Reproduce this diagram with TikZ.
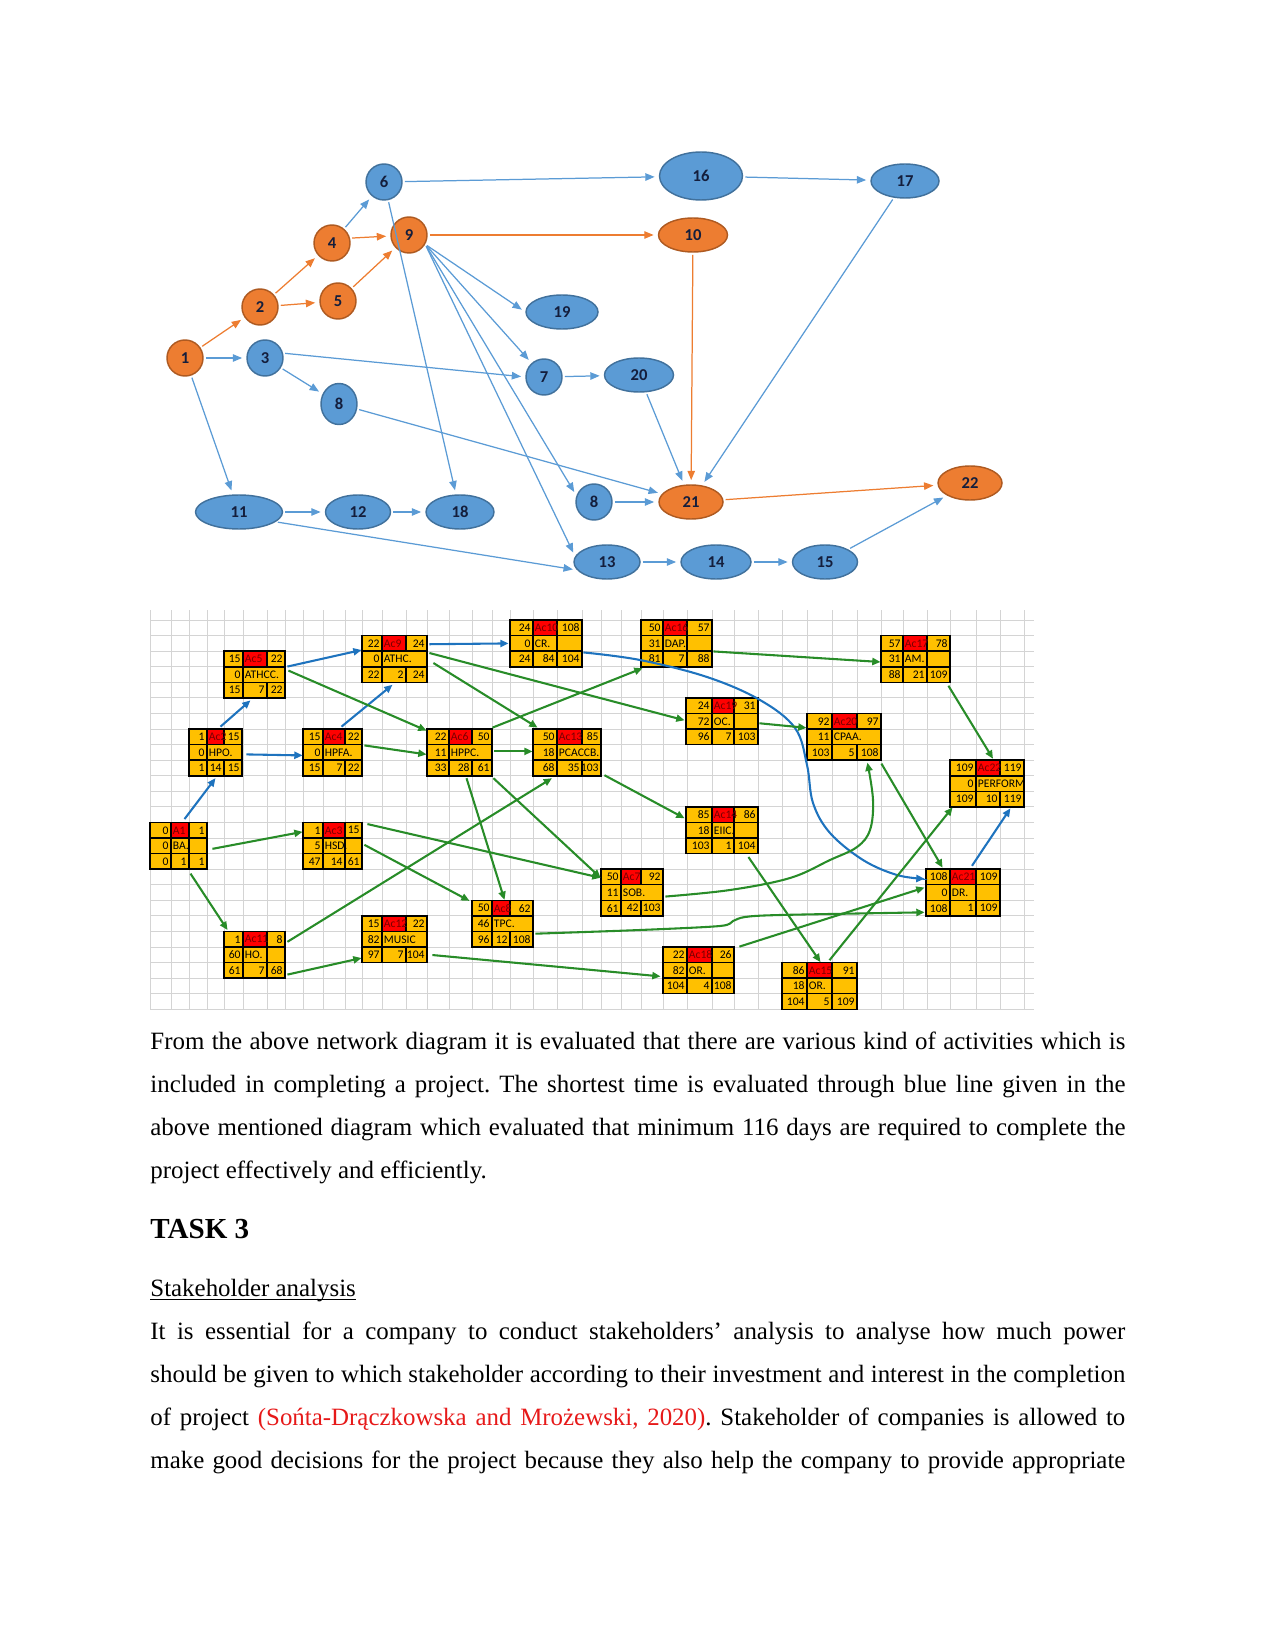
\documentclass[tikz,border=0pt]{standalone}
\usepackage{fontspec}
\setmainfont{Liberation Serif}
\newfontfamily\calibri{Carlito}
\usetikzlibrary{arrows.meta, shapes.geometric, fit}
\definecolor{nodeblue}{RGB}{91,155,213}
\definecolor{nodeblueline}{RGB}{65,113,156}
\definecolor{nodeorange}{RGB}{237,125,49}
\definecolor{nodeorangeline}{RGB}{174,90,33}
\definecolor{nodetext}{RGB}{20,30,60}
\definecolor{cellgold}{RGB}{255,192,0}
\definecolor{cellred}{RGB}{255,0,0}
\definecolor{celltext}{RGB}{120,0,0}
\definecolor{gridgray}{RGB}{212,212,212}
\definecolor{pathblue}{RGB}{30,115,190}
\definecolor{pathgreen}{RGB}{40,140,40}
\definecolor{citered}{RGB}{230,25,25}
\newlength{\pxl}
\setlength{\pxl}{0.4818pt}
\frenchspacing

\begin{document}
\begin{tikzpicture}[
  x=\pxl, y=-\pxl,
  ev/.style={ellipse, inner sep=0pt, line width=0.7pt, minimum width=36\pxl, minimum height=36\pxl, text=nodetext, font=\calibri\bfseries\fontsize{8}{9}\selectfont},
  blueev/.style={ev, fill=nodeblue, draw=nodeblueline},
  orangeev/.style={ev, fill=nodeorange, draw=nodeorangeline},
  link/.style={line width=0.6pt, shorten <=1pt, shorten >=2pt, -{Triangle[length=4.5pt,width=3.6pt]}},
  bluelink/.style={link, nodeblue},
  orangelink/.style={link, nodeorange},
  gridline/.style={gridgray, line width=0.45pt},
  cell/.style={draw=black, line width=0.7pt},
  num/.style={inner sep=0pt, anchor=east, font=\calibri\fontsize{5.6}{6}\selectfont},
  lbl/.style={inner sep=0pt, anchor=west, font=\calibri\fontsize{5.6}{6}\selectfont},
  arrow/.style={line width=1pt, -{Triangle[length=4pt,width=3.4pt]}},
  crit/.style={arrow, pathblue},
  flow/.style={arrow, pathgreen},
  body/.style={inner sep=0pt, anchor=base west, font=\fontsize{12}{14}\selectfont}
]
  \useasboundingbox (0,0) rectangle (1275,1650);

  % Network of events
  \node[orangeev] (n1) at (185,358) {1};
  \node[orangeev] (n2) at (260,307) {2};
  \node[blueev] (n3) at (265,358) {3};
  \node[orangeev] (n4) at (332,243) {4};
  \node[orangeev] (n5) at (338,301) {5};
  \node[blueev] (n6) at (384,182) {6};
  \node[orangeev] (n9) at (409,235) {9};
  \node[blueev, minimum height=41\pxl] (n8) at (339,404) {8};
  \node[blueev, minimum width=72\pxl, minimum height=34\pxl] (n19) at (562,312) {19};
  \node[blueev] (n7) at (544,377) {7};
  \node[blueev, minimum width=87\pxl, minimum height=34\pxl] (n11) at (239,512) {11};
  \node[blueev, minimum width=65\pxl, minimum height=34\pxl] (n12) at (358,512) {12};
  \node[blueev, minimum width=68\pxl, minimum height=34\pxl] (n18) at (460,512) {18};
  \node[blueev] (n8low) at (594,502) {8};
  \node[blueev, minimum width=66\pxl, minimum height=34\pxl] (n13) at (607,562) {13};
  \node[blueev, minimum width=83\pxl, minimum height=48\pxl] (n16) at (701,176) {16};
  \node[blueev, minimum width=68\pxl, minimum height=34\pxl] (n17) at (905,181) {17};
  \node[orangeev, minimum width=69\pxl, minimum height=34\pxl] (n10) at (693,235) {10};
  \node[blueev, minimum width=69\pxl, minimum height=34\pxl] (n20) at (639,375) {20};
  \node[orangeev, minimum width=64\pxl, minimum height=34\pxl] (n21) at (691,502) {21};
  \node[orangeev, minimum width=64\pxl, minimum height=34\pxl] (n22) at (970,483) {22};
  \node[blueev, minimum width=70\pxl, minimum height=34\pxl] (n14) at (716,562) {14};
  \node[blueev, minimum width=65\pxl, minimum height=34\pxl] (n15) at (825,562) {15};

  % Critical (orange) links
  \draw[orangelink] (n1) -- (n2);
  \draw[orangelink] (n2) -- (n4);
  \draw[orangelink] (n2) -- (n5);
  \draw[orangelink] (n4.15) -- (n9);
  \draw[orangelink] (n5) -- (n9);
  \draw[orangelink] (n9) -- (n10);
  \draw[orangelink] (n10) -- (n21);
  \draw[orangelink] (n21) -- (n22);

  % Other (blue) links
  \draw[bluelink] (n1) -- (n3);
  \draw[bluelink] (n1) -- (n11);
  \draw[bluelink] (n3.15) -- (n7.west);
  \draw[bluelink] (n3) -- (n8);
  \draw[bluelink] (n4) -- (n6);
  \draw[bluelink] (n6) -- (n16);
  \draw[bluelink] (n6) -- (n18);
  \draw[bluelink] (n16) -- (n17);
  \draw[bluelink] (n17) -- (n21);
  \draw[bluelink] (n9.-30) -- (n19.west);
  \draw[bluelink] (n9.-30) -- (n7);
  \draw[bluelink] (n9.-30) -- (n8low.160);
  \draw[bluelink] (n9.-30) -- (n13.170);
  \draw[bluelink] (n7) -- (n20);
  \draw[bluelink] (n20) -- (n21);
  \draw[bluelink] (n8) -- (n21);
  \draw[bluelink] (n8low) -- (n21);
  \draw[bluelink] (n11) -- (n12);
  \draw[bluelink] (n12) -- (n18);
  \draw[bluelink] (n11.-15) -- (n13.195);
  \draw[bluelink] (n13) -- (n14);
  \draw[bluelink] (n14) -- (n15);
  \draw[bluelink] (n15) -- (n22);

  % Sheet grid
  \begin{scope}
    \clip (150,610) rectangle (1034,1010);
    \foreach \k in {1,...,26}
      \draw[gridline] (150,604.5+15.57*\k) -- (1034,604.5+15.57*\k);
    \foreach \gx in {150,171,189,207,224,243,267,285,303,323,345,362,382,406,427,449,472,492,510,533,557,582,601,621,641,663,687,712,734,758,782,807,832,857,881,903,927,950,976,1000,1024}
      \draw[gridline] (\gx,610) -- (\gx,1010);
  \end{scope}

  % Activity boxes: name/columns/row/ES/Ac/EF/slack/label/LS/duration/LF/merged
  \foreach \nm/\xa/\xb/\xc/\xd/\rw/\es/\ac/\ef/\sl/\lb/\ls/\du/\lf/\mg in {
    a1/150/171/189/207/14/0/A1/1/0/BA./0/1/1/0,
    ac2/189/207/224/242/8/1/Ac2/15/0/HPO./1/14/15/1,
    ac3/303/323/345/362/14/1/Ac3/15/5/HSD./47/14/61/0,
    ac4/303/323/345/362/8/15/Ac4/22/0/HPFA./15/7/22/1,
    ac5/224/243/267/285/3/15/Ac5/22/0/ATHCC./15/7/22/1,
    ac6/427/449/472/492/8/22/Ac6/50/11/HPPC./33/28/61/1,
    ac7/601/621/641/663/17/50/Ac7/92/11/SOB./61/42/103/1,
    ac8/472/492/510/533/19/50/Ac8/62/46/TPC./96/12/108/1,
    ac9/362/382/406/427/2/22/Ac9/24/0/ATHC./22/2/24/1,
    ac10/510/533/557/582/1/24/Ac10/108/0/CR./24/84/104/0,
    ac11/224/243/267/285/21/1/Ac11/8/60/HO./61/7/68/0,
    ac12/362/382/406/427/20/15/Ac12/22/82/MUSIC/97/7/104/1,
    ac13/533/557/582/601/8/50/Ac13/85/18/PCACCB./68/35/103/1,
    ac14/686/712/734/758/13/85/Ac14/86/18/EIIC./103/1/104/0,
    ac15/782/807/832/857/23/86/Ac15/91/18/OR./104/5/109/0,
    ac16/641/663/687/712/1/50/Ac16/57/31/DAP./81/7/88/0,
    ac17/881/903/927/950/2/57/Ac17/78/31/AM./88/21/109/0,
    ac18/663/687/712/734/22/22/Ac18/26/82/OR./104/4/108/0,
    ac19/686/712/734/758/6/24/Ac19/31/72/OC./96/7/103/0,
    ac20/807/832/857/881/7/92/Ac20/97/11/CPAA./103/5/108/1,
    ac21/926/950/976/1000/17/108/Ac21/109/0/DR./108/1/109/0,
    ac22/950/976/1000/1024/10/109/Ac22/119/0/PERFORM/109/10/119/1} {
    \pgfmathsetmacro{\ya}{604.5+15.57*\rw}
    \pgfmathsetmacro{\yb}{\ya+15.57}
    \pgfmathsetmacro{\yc}{\ya+31.14}
    \pgfmathsetmacro{\yd}{\ya+46.71}
    \fill[cellgold] (\xa,\ya) rectangle (\xd,\yd);
    \fill[cellred] (\xb,\ya) rectangle (\xc,\yb);
    \draw[cell] (\xa,\ya) rectangle (\xd,\yd)
      (\xa,\yb) -- (\xd,\yb) (\xa,\yc) -- (\xd,\yc)
      (\xb,\ya) -- (\xb,\yd) (\xc,\ya) -- (\xc,\yb) (\xc,\yc) -- (\xc,\yd);
    \ifnum\mg=0 \draw[cell] (\xc,\yb) -- (\xc,\yc); \fi
    \node[fit={(\xa,\ya) (\xd,\yd)}, inner sep=0pt] (\nm) {};
    \node[num] at (\xb-2,\ya+7.8) {\es};
    \node[lbl, text=celltext] at (\xb+1.5,\ya+7.8) {\ac};
    \node[num] at (\xd-2,\ya+7.8) {\ef};
    \node[num] at (\xb-2,\yb+7.8) {\sl};
    \node[lbl] at (\xb+1.5,\yb+7.8) {\lb};
    \node[num] at (\xb-2,\yc+7.8) {\ls};
    \node[num] at (\xc-2,\yc+7.8) {\du};
    \node[num] at (\xd-2,\yc+7.8) {\lf};
  }

  % Critical path (blue)
  \draw[crit] ([shift={(6,-3)}]a1.north) -- ([shift={(0,2)}]ac2.south);
  \draw[crit] ([shift={(5,-2)}]ac2.north) -- ([shift={(-4,2)}]ac5.south);
  \draw[crit] ([shift={(4,2)}]ac2.east) -- ([shift={(0,3)}]ac4.west);
  \draw[crit] ([shift={(2,-8)}]ac5.east) -- ([shift={(0,-9)}]ac9.west);
  \draw[crit] ([shift={(9,-2)}]ac4.north) -- ([shift={(-2,2)}]ac9.south);
  \draw[crit] ([shift={(2,9)}]ac9.north east) -- ([shift={(-1,0)}]ac10.west);
  \draw[crit] plot[smooth, tension=0.6] coordinates {([shift={(1,9)}]ac10.east) (640,660) (707,677) (760,700) (795,728) (807,765) (813,803) (830,833) (863,860) (897,875) ([shift={(-1,10)}]ac21.north west)};
  \draw[crit] ([shift={(9,-3)}]ac21.north) -- ([shift={(-14,1)}]ac22.south east);

  % Other dependencies (green)
  \draw[flow] ([shift={(5,3)}]a1.east) -- ([shift={(0,-14)}]ac3.west);
  \draw[flow] ([shift={(12,4)}]a1.south) -- ([shift={(4,-1)}]ac11.north west);
  \draw[flow] ([shift={(3,-4)}]ac5.east) -- ([shift={(0,2)}]ac6.north west);
  \draw[flow] ([shift={(2,-7)}]ac4.east) -- ([shift={(0,2)}]ac6.west);
  \draw[flow] ([shift={(6,4)}]ac9.east) -- ([shift={(5,-1)}]ac13.north west);
  \draw[flow] ([shift={(2,-6)}]ac9.east) -- ([shift={(-1,-1)}]ac19.west);
  \draw[flow] ([shift={(0,-1)}]ac6.north east) -- ([shift={(2,1)}]ac16.south west);
  \draw[flow] ([shift={(2,-1)}]ac6.east) -- ([shift={(0,-1)}]ac13.west);
  \draw[flow] ([shift={(7,2)}]ac6.south) -- ([shift={(2,0)}]ac8.north);
  \draw[flow] ([shift={(1,2)}]ac6.south east) -- ([shift={(0,9)}]ac7.north west);
  \draw[flow] ([shift={(5,2)}]ac3.north east) -- ([shift={(0,9)}]ac7.north west);
  \draw[flow] ([shift={(2,-1)}]ac3.east) -- ([shift={(-2,1)}]ac8.north west);
  \draw[flow] ([shift={(2,-13)}]ac11.east) -- ([shift={(-15,2)}]ac13.south);
  \draw[flow] ([shift={(2,-4)}]ac11.south east) -- ([shift={(0,-5)}]ac12.south west);
  \draw[flow] ([shift={(5,-8)}]ac12.south east) -- ([shift={(-2,6)}]ac18.west);
  \draw[flow] ([shift={(3,-1)}]ac13.south east) -- ([shift={(-1,-12)}]ac14.west);
  \draw[flow] ([shift={(1,8)}]ac16.east) -- ([shift={(0,3)}]ac17.west);
  \draw[flow] ([shift={(1,2)}]ac19.east) -- ([shift={(0,-9)}]ac20.west);
  \draw[flow] ([shift={(-2,3)}]ac17.south east) -- ([shift={(6,-1)}]ac22.north);
  \draw[flow] ([shift={(0,3)}]ac20.south east) -- ([shift={(17,-1)}]ac21.north west);
  \draw[flow] ([shift={(-10,3)}]ac14.south east) -- ([shift={(1,0)}]ac15.north);
  \draw[flow] ([shift={(10,-2)}]ac15.north) -- ([shift={(3,0)}]ac22.south west);
  \draw[flow] plot[smooth, tension=0.6] coordinates {([shift={(2,4)}]ac7.east) (730,890) (790,878) (830,860) (857,847) (870,830) (873,800) ([shift={(-14,2)}]ac20.south east)};
  \draw[flow] plot[smooth, tension=0.5] coordinates {([shift={(2,10)}]ac8.east) (640,930) (720,926) (733,921) (745,917) (780,915) ([shift={(-1,-4)}]ac21.south west)};
  \draw[flow] ([shift={(5,0)}]ac18.north east) -- ([shift={(-1,-5)}]ac21.west);

  % Text below the diagrams
  \node[body] (p1a) at (150,1049) {\makebox[975\pxl][s]{From the above network diagram it is evaluated that there are various kind of activities which is}};
  \node[body] (p1b) at (150,1092) {\makebox[975\pxl][s]{included in completing a project. The shortest time is evaluated through blue line given in the}};
  \node[body] (p1c) at (150,1135) {\makebox[975\pxl][s]{above mentioned diagram which evaluated that minimum 116 days are required to complete the}};
  \node[body] (p1d) at (150,1178) {project effectively and efficiently.};
  \node[body, font=\bfseries\fontsize{14}{16}\selectfont] (task) at (150,1238) {TASK 3};
  \node[body] (sh) at (150,1296) {Stakeholder analysis};
  \draw[line width=0.55pt] ([yshift=-1.6pt]sh.base west) -- ([yshift=-1.6pt]sh.base east);
  \node[body] (p2a) at (150,1339) {\makebox[975\pxl][s]{It is essential for a company to conduct stakeholders’ analysis to analyse how much power}};
  \node[body] (p2b) at (150,1382) {\makebox[975\pxl][s]{should be given to which stakeholder according to their investment and interest in the completion}};
  \node[body] (p2c) at (150,1425) {\makebox[975\pxl][s]{of project {\color{citered}(Sońta-Drączkowska and Mrożewski, 2020)}. Stakeholder of companies is allowed to}};
  \node[body] (p2d) at (150,1468) {\makebox[975\pxl][s]{make good decisions for the project because they also help the company to provide appropriate}};
\end{tikzpicture}
\end{document}
